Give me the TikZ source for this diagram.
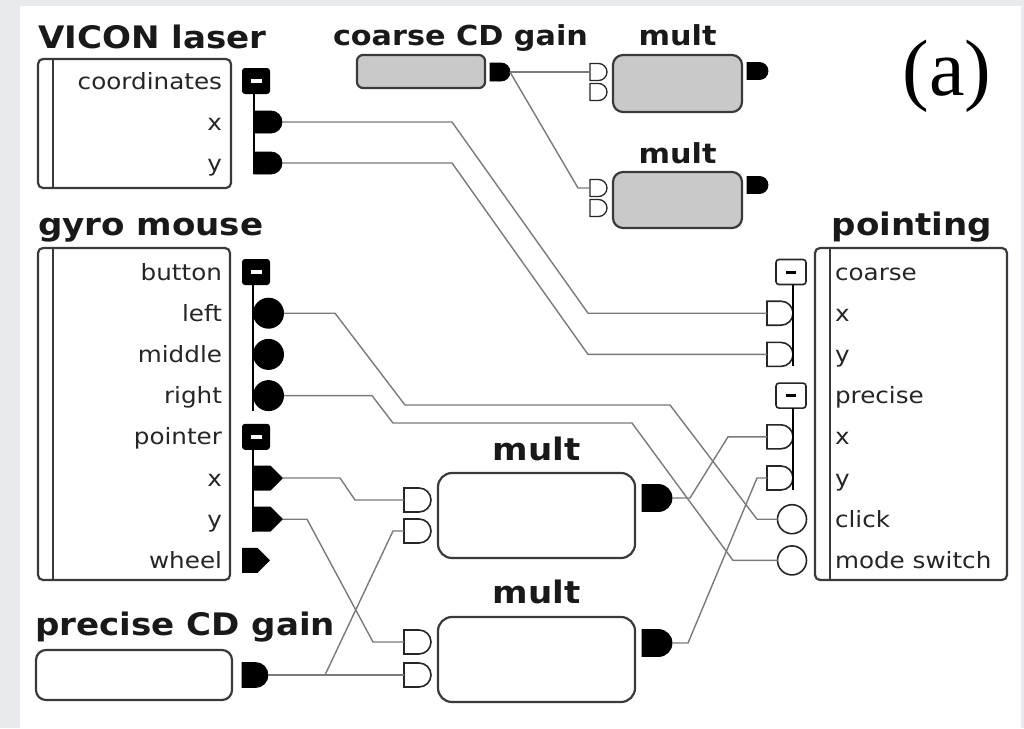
\documentclass[tikz,border=0pt]{standalone}
\usepackage{fontspec}
\setsansfont{DejaVu Sans}[FakeStretch=1.1]
\newfontfamily\tagfont{Liberation Serif}
\usetikzlibrary{shapes.misc,shapes.symbols}

\definecolor{bggray}{HTML}{E8EAEE}
\definecolor{boxline}{HTML}{3A3A3A}
\definecolor{wiregray}{HTML}{7A7A7A}
\definecolor{gainfill}{HTML}{C9C9C9}

\newcommand{\barw}{{\color{white}\rule{11pt}{4pt}}}
\newcommand{\barb}{\rule{10pt}{3pt}}

\begin{document}
\begin{tikzpicture}[
        x=1pt, y=-1pt,
        every node/.style={inner sep=0pt, outer sep=0pt},
        block/.style={draw=boxline, line width=2.2pt, fill=white, rounded corners=5pt, anchor=north west},
        greyblock/.style={block, fill=gainfill},
        title/.style={font=\sffamily\bfseries\fontsize{31}{31}\selectfont, text=black!90, anchor=base west},
        smalltitle/.style={title, font=\sffamily\bfseries\fontsize{27.5}{27.5}\selectfont},
        lbl/.style={font=\sffamily\fontsize{22.4}{22.4}\selectfont, text=black!85},
        outport/.style={rounded rectangle, rounded rectangle left arc=none, fill=black, draw=black, line width=0.8pt, anchor=west, minimum width=28pt, minimum height=22pt},
        inport/.style={outport, fill=white, draw=black!85, line width=1.6pt, minimum width=26pt, minimum height=24pt},
        smallin/.style={inport, line width=1.3pt, minimum width=17pt, minimum height=17pt},
        smallout/.style={outport, minimum width=21pt, minimum height=17pt},
        grpsq/.style={rectangle, rounded corners=3pt, fill=black, minimum width=28pt, minimum height=26pt},
        opengrp/.style={grpsq, fill=white, draw=black!85, line width=1.6pt, minimum width=30pt, minimum height=25pt},
        btnport/.style={circle, fill=black, minimum size=31pt, anchor=west},
        openbtn/.style={circle, fill=white, draw=black!85, line width=1.6pt, minimum size=29pt},
        arrowport/.style={signal, signal from=nowhere, signal to=east, signal pointer angle=90, fill=black, minimum width=30pt, minimum height=25pt, anchor=west},
        groupline/.style={draw=black, line width=2pt},
        wire/.style={draw=wiregray, line width=1.4pt}
    ]
        % backdrop
        \useasboundingbox (0,0) rectangle (1024,728);
        \fill[white] (0,0) rectangle (1024,728);
        \fill[bggray] (0,0) rectangle (20,728);
        \fill[bggray] (0,0) rectangle (1024,6);
        \fill[bggray] (1021,0) rectangle (1024,728);

        % VICON laser
        \node[title] (vicontitle) at (38,48) {VICON laser};
        \node[block, minimum width=193pt, minimum height=129pt] (vicon) at (38,59) {};
        \draw[boxline, line width=2pt] (53,59) -- (53,188);
        \node[lbl, anchor=base east] (vlcoord) at (222,89) {coordinates};
        \node[lbl, anchor=base east] (vlx) at (222,130) {x};
        \node[lbl, anchor=base east] (vly) at (222,171) {y};
        \node[grpsq] (vcoord) at (256,81) {\barw};
        \node[outport] (vx) at (254,122) {};
        \node[outport] (vy) at (254,163) {};
        \draw[groupline] (vcoord.south -| vx.west) -- (vy.south -| vx.west);

        % gyro mouse
        \node[title] (gyrotitle) at (38,235) {gyro mouse};
        \node[block, minimum width=192pt, minimum height=332pt] (gyro) at (38,248) {};
        \draw[boxline, line width=2pt] (53,248) -- (53,580);
        \node[lbl, anchor=base east] (glbutton) at (222,280) {button};
        \node[lbl, anchor=base east] (glleft) at (222,321.2) {left};
        \node[lbl, anchor=base east] (glmiddle) at (222,362.4) {middle};
        \node[lbl, anchor=base east] (glright) at (222,403.6) {right};
        \node[lbl, anchor=base east] (glpointer) at (222,444.8) {pointer};
        \node[lbl, anchor=base east] (glx) at (222,486) {x};
        \node[lbl, anchor=base east] (gly) at (222,527.2) {y};
        \node[lbl, anchor=base east] (glwheel) at (222,568.4) {wheel};
        \node[grpsq] (gbutton) at (256,272) {\barw};
        \node[btnport] (gleft) at (253,313.2) {};
        \node[btnport] (gmiddle) at (253,354.4) {};
        \node[btnport] (gright) at (253,395.6) {};
        \draw[groupline] (gbutton.south -| gleft.west) -- (gright.south -| gleft.west);
        \node[grpsq] (gpointer) at (256,436.8) {\barw};
        \node[arrowport] (gx) at (253,478) {};
        \node[arrowport] (gy) at (253,519.2) {};
        \draw[groupline] (gpointer.south -| gx.west) -- (gy.south -| gx.west);
        \node[arrowport, minimum width=28pt] (gwheel) at (242,560.4) {};

        % pointing
        \node[title, anchor=base] (pointtitle) at (912,235) {pointing};
        \node[block, minimum width=192pt, minimum height=332pt] (pointing) at (815,248) {};
        \draw[boxline, line width=2pt] (830,248) -- (830,580);
        \node[lbl, anchor=base west] (plcoarse) at (835,280) {coarse};
        \node[lbl, anchor=base west] (plcx) at (835,321.2) {x};
        \node[lbl, anchor=base west] (plcy) at (835,362.4) {y};
        \node[lbl, anchor=base west] (plprecise) at (835,403.6) {precise};
        \node[lbl, anchor=base west] (plpx) at (835,444.8) {x};
        \node[lbl, anchor=base west] (plpy) at (835,486) {y};
        \node[lbl, anchor=base west] (plclick) at (835,527.2) {click};
        \node[lbl, anchor=base west] (plmode) at (835,568.4) {mode switch};
        \node[opengrp] (pcoarse) at (791,272) {\barb};
        \node[inport] (pcx) at (767,313.2) {};
        \node[inport] (pcy) at (767,354.4) {};
        \draw[groupline, line width=1.6pt] (pcoarse.south -| pcx.east) -- (pcy.south -| pcx.east);
        \node[opengrp] (pprecise) at (791,395.6) {\barb};
        \node[inport] (ppx) at (767,436.8) {};
        \node[inport] (ppy) at (767,478) {};
        \draw[groupline, line width=1.6pt] (pprecise.south -| ppx.east) -- (ppy.south -| ppx.east);
        \node[openbtn] (pclick) at (792,519.2) {};
        \node[openbtn] (pmode) at (792,560.4) {};

        % coarse gain and its two mults
        \node[smalltitle] (coarsetitle) at (333,45) {coarse CD gain};
        \node[greyblock, minimum width=128pt, minimum height=33pt, rounded corners=6pt] (coarse) at (357,55) {};
        \node[smallout, minimum width=20pt, minimum height=18pt] (coarseout) at (490,72) {};
        \node[smalltitle, anchor=base] (tmatitle) at (677.5,45) {mult};
        \node[greyblock, minimum width=129pt, minimum height=57pt, rounded corners=10pt] (tma) at (613,55) {};
        \node[smallin] (tmaa) at (590,72) {};
        \node[smallin] (tmab) at (590,92) {};
        \node[smallout] (tmaout) at (747,71) {};
        \node[smalltitle, anchor=base] (tmbtitle) at (677.5,163) {mult};
        \node[greyblock, minimum width=129pt, minimum height=56pt, rounded corners=10pt] (tmb) at (613,172) {};
        \node[smallin] (tmba) at (590,188) {};
        \node[smallin] (tmbb) at (590,208) {};
        \node[smallout] (tmbout) at (747,185) {};

        % precise gain and its two mults
        \node[title] (precisetitle) at (35,635) {precise CD gain};
        \node[block, minimum width=196pt, minimum height=50pt, rounded corners=10pt] (precise) at (36,650) {};
        \node[outport, minimum width=26pt, minimum height=25pt] (preciseout) at (242,675) {};
        \node[title, anchor=base] (maintitle) at (536.5,460) {mult};
        \node[block, minimum width=197pt, minimum height=85pt, rounded corners=14pt] (ma) at (438,473) {};
        \node[inport, minimum width=27pt] (maa) at (404,500) {};
        \node[inport, minimum width=27pt] (mab) at (404,531) {};
        \node[outport, minimum width=30pt, minimum height=27pt] (maout) at (642,498) {};
        \node[title, anchor=base] (mbtitle) at (536.5,603) {mult};
        \node[block, minimum width=197pt, minimum height=85pt, rounded corners=14pt] (mb) at (438,617) {};
        \node[inport, minimum width=27pt] (mba) at (404,642) {};
        \node[inport, minimum width=27pt] (mbb) at (404,675) {};
        \node[outport, minimum width=30pt, minimum height=27pt] (mbout) at (642,643) {};

        \node[font=\tagfont\fontsize{80}{80}\selectfont] (tag) at (947,76) {(a)};

        % wires
        \draw[wire] (vx.east) -- (452,122) -- (588,313.2) -- (pcx.west);
        \draw[wire] (vy.east) -- (452,163) -- (588,354.4) -- (pcy.west);
        \draw[wire] (coarseout.east) -- (tmaa.west);
        \draw[wire] (coarseout.east) -- (578,188) -- (tmba.west);
        \draw[wire] (gleft.east) -- (335,313.2) -- (405,405) -- (670,405) -- (757,519.2) -- (pclick.west);
        \draw[wire] (gright.east) -- (372,395.6) -- (393,423) -- (632,423) -- (733,560.4) -- (pmode.west);
        \draw[wire] (gx.east) -- (340,478) -- (355,500) -- (maa.west);
        \draw[wire] (gy.east) -- (307,519.2) -- (373,642) -- (mba.west);
        \draw[wire] (preciseout.east) -- (mbb.west);
        \draw[wire] (preciseout.east) -- (325,675) -- (393,531) -- (mab.west);
        \draw[wire] (maout.east) -- (690,498) -- (728,436.8) -- (ppx.west);
        \draw[wire] (mbout.east) -- (688,643) -- (757,478) -- (ppy.west);
    \end{tikzpicture}
\end{document}
